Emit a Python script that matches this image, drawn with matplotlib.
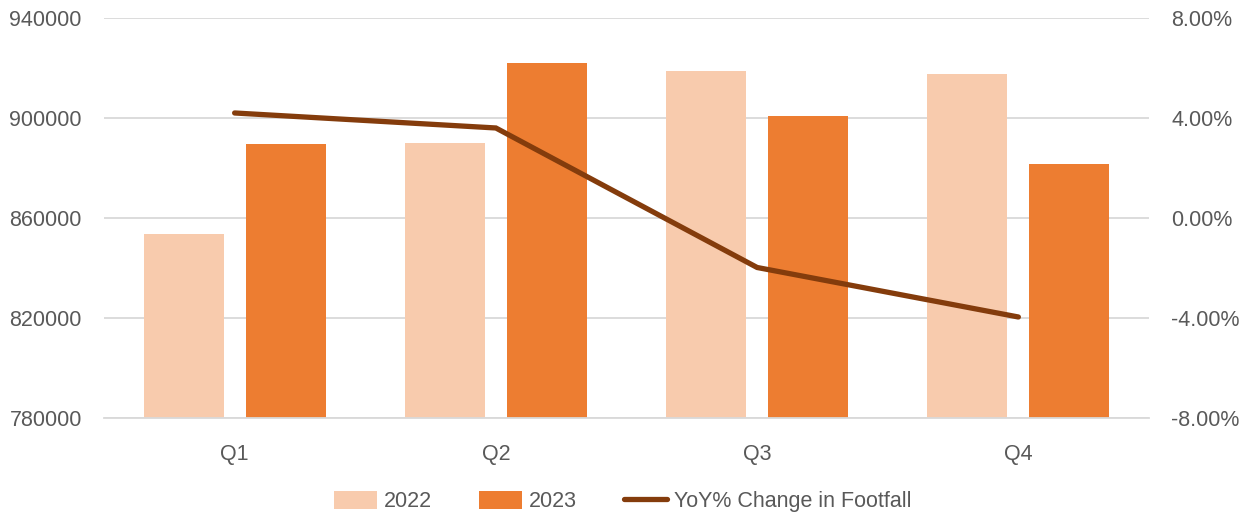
import matplotlib
matplotlib.use("Agg")
import matplotlib.pyplot as plt
import numpy as np
from matplotlib.ticker import FuncFormatter

categories = ["Q1", "Q2", "Q3", "Q4"]
footfall_2022 = [853500, 890000, 918800, 917600]
footfall_2023 = [889600, 922000, 900900, 881600]
yoy_change = [4.2, 3.6, -1.98, -3.96]
left_ticks = [780000, 820000, 860000, 900000, 940000]
right_ticks = [-8, -4, 0, 4, 8]

plt.rcParams['font.family'] = ['Liberation Sans', 'DejaVu Sans']
text_color = "#595959"

fig = plt.figure(figsize=(12.53, 5.12), dpi=100)
ax = fig.add_axes([0.083, 0.1836, 0.834, 0.7813])
ax2 = ax.twinx()

x = np.arange(len(categories))
w = 0.306
off = 0.195
b1 = ax.bar(x - off, footfall_2022, w, color="#F8CBAD", label="2022", zorder=2)
b2 = ax.bar(x + off, footfall_2023, w, color="#ED7D31", label="2023", zorder=2)

ax.set_xlim(-0.5, len(categories) - 0.5)
ax.set_ylim(780000, 940000)
ax.set_yticks(left_ticks)
ax.yaxis.set_major_formatter(FuncFormatter(lambda v, p: f"{int(v)}"))
ax.grid(axis="y", color="#D9D9D9", linewidth=1.3, zorder=0)
ax.set_axisbelow(True)
ax.set_xticks(x)
ax.set_xticklabels(categories)

l1, = ax2.plot(x, yoy_change, color="#843C0C", linewidth=3.8, solid_capstyle="round",
               solid_joinstyle="miter", label="YoY% Change in Footfall", zorder=3)
ax2.set_ylim(-8, 8)
ax2.set_yticks(right_ticks)
ax2.yaxis.set_major_formatter(FuncFormatter(lambda v, p: f"{v:.2f}%"))

for a in (ax, ax2):
    for s in a.spines.values():
        s.set_visible(False)
    a.tick_params(length=0, labelsize=15.5, colors=text_color)
ax.tick_params(axis="x", pad=19)
ax.tick_params(axis="y", pad=16)
ax2.tick_params(axis="y", pad=16)
ax.spines["bottom"].set_visible(True)
ax.spines["bottom"].set_color("#D9D9D9")
ax.spines["bottom"].set_linewidth(1.3)

fig.legend(handles=[b1, b2, l1], loc="center", bbox_to_anchor=(0.497, 0.02),
           ncol=3, frameon=False, fontsize=15.5, labelcolor=text_color,
           handlelength=2.0, handleheight=0.9, columnspacing=2.2, handletextpad=0.3)

fig.savefig("out.png", dpi=100)
